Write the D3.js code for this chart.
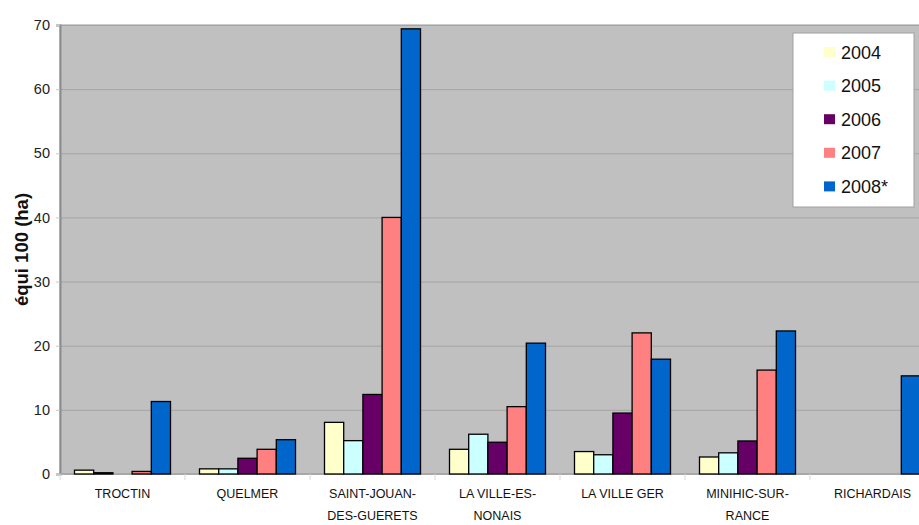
<!DOCTYPE html>
<html>
<head>
<meta charset="utf-8">
<script src="https://cdn.jsdelivr.net/npm/d3@7"></script>
<style>
  body { margin: 0; background: #fff; }
  text { font-family: "Liberation Sans", Arial, sans-serif; }
</style>
</head>
<body>
<div id="chart"></div>
<script>
// chart data
var communes = [["TROCTIN"], ["QUELMER"], ["SAINT-JOUAN-", "DES-GUERETS"], ["LA VILLE-ES-", "NONAIS"], ["LA VILLE GER"], ["MINIHIC-SUR-", "RANCE"], ["RICHARDAIS"]];
var years = ["2004", "2005", "2006", "2007", "2008*"];
var v2004 = [0.6, 0.8, 8.05, 3.85, 3.5, 2.65, null];
var v2005 = [0.2, 0.8, 5.2, 6.2, 3.0, 3.3, null];
var v2006 = [null, 2.45, 12.4, 4.95, 9.5, 5.15, null];
var v2007 = [0.4, 3.85, 40, 10.5, 22.0, 16.2, null];
var v2008 = [11.3, 5.35, 69.4, 20.4, 17.9, 22.3, 15.3];
var yTicks = [0, 10, 20, 30, 40, 50, 60, 70];

var colors = ["#ffffcc", "#ccffff", "#660066", "#ff8080", "#0066cc"];
var series = [v2004, v2005, v2006, v2007, v2008];

var W = 919, H = 525;
var margin = {top: 25, left: 60, bottom: 51};
var plotRight = 935; // the original chart is cut off on the right

var svg = d3.select("#chart").append("svg")
    .attr("width", W).attr("height", H);

var keys = communes.map(function(c) { return c.join(""); });

var x0 = d3.scaleBand().domain(keys).range([margin.left, plotRight]).padding(0);
var x1 = d3.scaleBand().domain(years).range([0, x0.bandwidth()])
    .paddingInner(0).paddingOuter(0.755);
var y = d3.scaleLinear().domain([0, 70]).range([H - margin.bottom, margin.top]);

// plot background
svg.append("rect")
    .attr("x", margin.left).attr("y", margin.top)
    .attr("width", plotRight - margin.left)
    .attr("height", y(0) - margin.top)
    .attr("fill", "#c0c0c0")
    .attr("stroke", "#9a9a9a");

// grid lines
svg.append("g")
    .attr("transform", "translate(" + margin.left + ",0)")
    .call(d3.axisLeft(y).tickValues(yTicks).tickSize(-(plotRight - margin.left)).tickFormat(""))
    .call(function(g) {
        g.select(".domain").remove();
        g.selectAll("line").attr("stroke", "#a4a4a4");
    });

// y axis
svg.append("g")
    .attr("transform", "translate(" + margin.left + ",0)")
    .call(d3.axisLeft(y).tickValues(yTicks).tickSize(4).tickPadding(6))
    .call(function(g) {
        g.select(".domain").attr("stroke", "#8c8c8c").attr("stroke-width", 2);
        g.selectAll("line").attr("stroke", "#c8c8c8");
        g.selectAll("text").attr("font-size", "14.5px").attr("fill", "#222")
            .style("font-family", "'Liberation Sans', Arial, sans-serif");
    });

svg.append("text")
    .attr("transform", "translate(28," + ((margin.top + y(0)) / 2) + ") rotate(-90)")
    .attr("text-anchor", "middle")
    .attr("font-size", "18.5px")
    .attr("font-weight", "bold")
    .attr("fill", "#111")
    .text("équi 100 (ha)");

// x axis line and category ticks
svg.append("line")
    .attr("x1", margin.left).attr("x2", plotRight)
    .attr("y1", y(0)).attr("y2", y(0))
    .attr("stroke", "#a8a8a8").attr("stroke-width", 2);

svg.append("g").selectAll("line")
    .data(keys.concat(["end"]))
    .enter().append("line")
    .attr("x1", function(d, i) { return margin.left + i * x0.bandwidth(); })
    .attr("x2", function(d, i) { return margin.left + i * x0.bandwidth(); })
    .attr("y1", y(0)).attr("y2", y(0) + 6)
    .attr("stroke", "#d8d8d8");

// bars
var groups = svg.append("g").selectAll("g")
    .data(communes)
    .enter().append("g")
    .attr("transform", function(d, i) { return "translate(" + x0(keys[i]) + ",0)"; });

groups.selectAll("rect")
    .data(function(d, i) {
        return years.map(function(yr, j) { return {year: yr, value: series[j][i], color: colors[j]}; })
            .filter(function(b) { return b.value != null; });
    })
    .enter().append("rect")
    .attr("x", function(d) { return x1(d.year); })
    .attr("y", function(d) { return y(d.value); })
    .attr("width", x1.bandwidth())
    .attr("height", function(d) { return y(0) - y(d.value); })
    .attr("fill", function(d) { return d.color; })
    .attr("stroke", "#000")
    .attr("stroke-width", 1.3);

// category labels
groups.each(function(lines) {
    var g = d3.select(this);
    lines.forEach(function(line, k) {
        g.append("text")
            .attr("x", x0.bandwidth() / 2)
            .attr("y", y(0) + 24 + k * 22)
            .attr("text-anchor", "middle")
            .attr("font-size", "12.5px")
            .attr("fill", "#111")
            .text(line);
    });
});

// legend
var legend = svg.append("g").attr("transform", "translate(793,33)");
legend.append("rect")
    .attr("width", 121).attr("height", 174)
    .attr("fill", "#fff").attr("stroke", "#a0a0a0");

var items = legend.selectAll("g.item")
    .data(years)
    .enter().append("g")
    .attr("class", "item")
    .attr("transform", function(d, i) { return "translate(0," + (19 + i * 33.6) + ")"; });

items.append("rect")
    .attr("x", 31).attr("y", -5)
    .attr("width", 11).attr("height", 10)
    .attr("fill", function(d, i) { return colors[i]; });

items.append("text")
    .attr("x", 48).attr("y", 6.5)
    .attr("font-size", "18px")
    .attr("fill", "#111")
    .text(function(d) { return d; });
</script>
</body>
</html>
